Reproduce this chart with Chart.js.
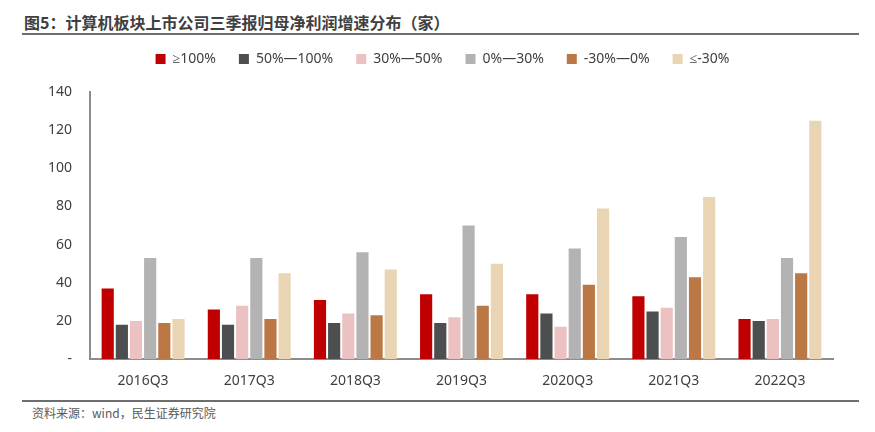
<!DOCTYPE html>
<html>
<head>
<meta charset="utf-8">
<script src="https://cdn.jsdelivr.net/npm/chart.js@4.4.0/dist/chart.umd.min.js"></script>
<style>
  body { margin:0; width:875px; height:432px; background:#fff; font-family:"Noto Sans CJK SC","Noto Sans",sans-serif; position:relative; overflow:hidden; }
  #title { position:absolute; left:24px; top:10px; font-size:16px; font-weight:bold; color:#404040; }
  .rule { position:absolute; left:22px; width:837px; height:2px; background:#6e6e6e; }
  #src { position:absolute; left:32px; top:404px; font-size:12px; color:#595959; }
  #wrap { position:absolute; left:0; top:29px; width:875px; height:373px; }
</style>
</head>
<body>
<div id="title">图5：计算机板块上市公司三季报归母净利润增速分布（家）</div>
<div class="rule" style="top:33px"></div>
<div id="wrap"><canvas id="chart"></canvas></div>
<div class="rule" style="top:400px"></div>
<div id="src">资料来源：wind，民生证券研究院</div>
<script>
// categories and series
const quarters = ['2016Q3','2017Q3','2018Q3','2019Q3','2020Q3','2021Q3','2022Q3'];
const seriesNames = ['≥100%','50%—100%','30%—50%','0%—30%','-30%—0%','≤-30%'];
const seriesColors = ['#C00000','#4D4E50','#EBC1C1','#B3B3B3','#BB7744','#E9D5B3'];
const over100  = [37, 26, 31, 34, 34, 33, 21];
const p50to100 = [18, 18, 19, 19, 24, 25, 20];
const p30to50  = [20, 28, 24, 22, 17, 27, 21];
const p0to30   = [53, 53, 56, 70, 58, 64, 53];
const m30to0   = [19, 21, 23, 28, 39, 43, 45];
const underM30 = [21, 45, 47, 50, 79, 85, 125];
const yTicks = [0, 20, 40, 60, 80, 100, 120, 140];

const allSeries = [over100, p50to100, p30to50, p0to30, m30to0, underM30];

// extra room below the legend, and nudge it right a little
const legendGap = {
  id: 'legendGap',
  beforeInit(chart) {
    const fit = chart.legend.fit;
    chart.legend.fit = function () { fit.bind(chart.legend)(); this.height += 16; };
  },
  afterLayout(chart) {
    chart.legend.left += 11;
    chart.legend.right += 11;
  }
};

new Chart(document.getElementById('chart'), {
  type: 'bar',
  data: {
    labels: quarters,
    datasets: allSeries.map((vals, i) => ({
      label: seriesNames[i],
      data: vals,
      backgroundColor: seriesColors[i],
      borderWidth: 0,
      categoryPercentage: 0.8,
      barPercentage: 0.86
    }))
  },
  options: {
    responsive: true,
    maintainAspectRatio: false,
    animation: false,
    layout: { padding: { left: 30, right: 42, top: 0, bottom: 0 } },
    plugins: {
      legend: {
        position: 'top',
        labels: { boxWidth: 10, boxHeight: 10, padding: 23, color: '#404040', font: { size: 14, family: 'Noto Sans' } }
      },
      tooltip: { enabled: false }
    },
    scales: {
      x: {
        grid: { display: false, drawTicks: false },
        border: { color: '#8c8c8c', width: 2 },
        ticks: { color: '#404040', font: { size: 14, family: 'Noto Sans' }, padding: 13 }
      },
      y: {
        min: 0, max: 140,
        afterBuildTicks: axis => { axis.ticks = yTicks.map(v => ({ value: v })); },
        grid: { display: false, drawTicks: false },
        border: { color: '#8c8c8c', width: 2 },
        ticks: {
          color: '#404040', font: { size: 14, family: 'Noto Sans' }, padding: 18,
          callback: v => v === 0 ? '-' : v
        }
      }
    }
  },
  plugins: [legendGap]
});
</script>
</body>
</html>
